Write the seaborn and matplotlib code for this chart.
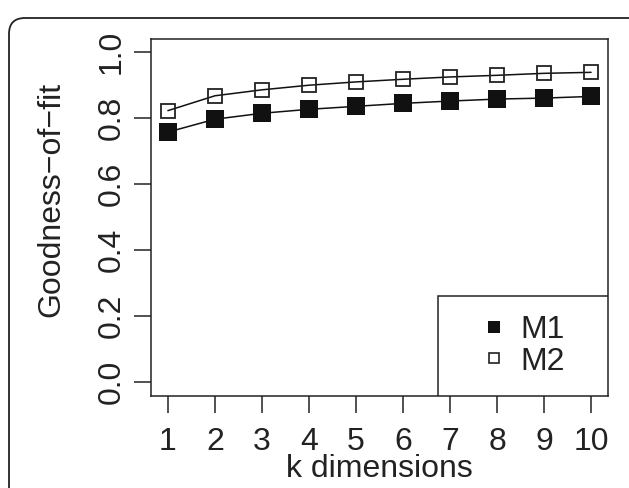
import matplotlib

matplotlib.use("Agg")
import matplotlib.pyplot as plt
import pandas as pd
import seaborn as sns
from matplotlib.lines import Line2D
from matplotlib.patches import FancyBboxPatch, Rectangle

k_dims = [1, 2, 3, 4, 5, 6, 7, 8, 9, 10]
m1_fit = [0.758, 0.797, 0.815, 0.827, 0.836, 0.845, 0.852, 0.858, 0.861, 0.866]
m2_fit = [0.823, 0.868, 0.886, 0.900, 0.910, 0.918, 0.925, 0.930, 0.936, 0.939]
y_ticks = [0.0, 0.2, 0.4, 0.6, 0.8, 1.0]
series_names = ["M1", "M2"]

sns.set_style("ticks")
plt.rcParams["font.family"] = ["Liberation Sans", "DejaVu Sans"]

W, H = 629, 488
FS = 23
INK = "#222222"
fig = plt.figure(figsize=(W / 100, H / 100), dpi=100)

# rounded outer frame (cut off at right/bottom like the reference)
frame = FancyBboxPatch((9, -40), 700, H - 9 + 40 - 9,
                       boxstyle="round,pad=0,rounding_size=16",
                       transform=None, fill=False, edgecolor=INK,
                       linewidth=1.3)
fig.patches.append(frame)

ax = fig.add_axes([151 / W, (H - 395.5) / H, (608 - 151) / W, (395.5 - 39) / H])

df = pd.DataFrame({"k": k_dims, "M1": m1_fit, "M2": m2_fit})

sns.lineplot(data=df, x="k", y="M1", ax=ax, color="#111111", linewidth=1.1,
             marker="s", markersize=13.5, markerfacecolor="#111111",
             markeredgecolor="#111111", markeredgewidth=0)
sns.lineplot(data=df, x="k", y="M2", ax=ax, color="#111111", linewidth=1.1,
             marker="s", markersize=10.5, markerfacecolor="none",
             markeredgecolor=INK, markeredgewidth=1.3)

ax.set_xlim(1 - 0.36, 10 + 0.36)
ax.set_ylim(-0.04, 1.04)
ax.set_xticks(k_dims)
ax.set_yticks(y_ticks)
ax.set_yticklabels([f"{v:.1f}" for v in y_ticks], rotation=90, va="center")

for s in ax.spines.values():
    s.set_linewidth(1.1)
    s.set_color(INK)

ax.tick_params(axis="both", length=12.5, width=1.1, color=INK,
               labelsize=FS, labelcolor=INK)
ax.tick_params(axis="x", pad=10)
ax.tick_params(axis="y", pad=5)

ax.set_xlabel("k dimensions", fontsize=FS, color=INK, labelpad=-2)
ax.set_ylabel("Goodness\u2212of\u2212fit", fontsize=FS, color=INK)
ax.yaxis.set_label_coords(-0.185, 0.55)

# legend box at bottom right, content centred inside it
box = (0.628, 0.0, 0.372, 0.279)
ax.add_patch(Rectangle(box[:2], box[2], box[3], transform=ax.transAxes,
                       facecolor="white", edgecolor=INK, linewidth=1.1, zorder=4))
handles = [
    Line2D([], [], linestyle="none", marker="s", markersize=9,
           markerfacecolor="#111111", markeredgewidth=0),
    Line2D([], [], linestyle="none", marker="s", markersize=7.5,
           markerfacecolor="white", markeredgecolor=INK, markeredgewidth=1.2),
]
leg = ax.legend(handles, series_names, loc="center", bbox_to_anchor=box,
                frameon=False, fontsize=FS, borderpad=0, handlelength=0.8,
                handletextpad=0.4, labelspacing=0.05)
leg.set_zorder(5)
for t in leg.get_texts():
    t.set_color(INK)

fig.savefig("out.png", dpi=100)
